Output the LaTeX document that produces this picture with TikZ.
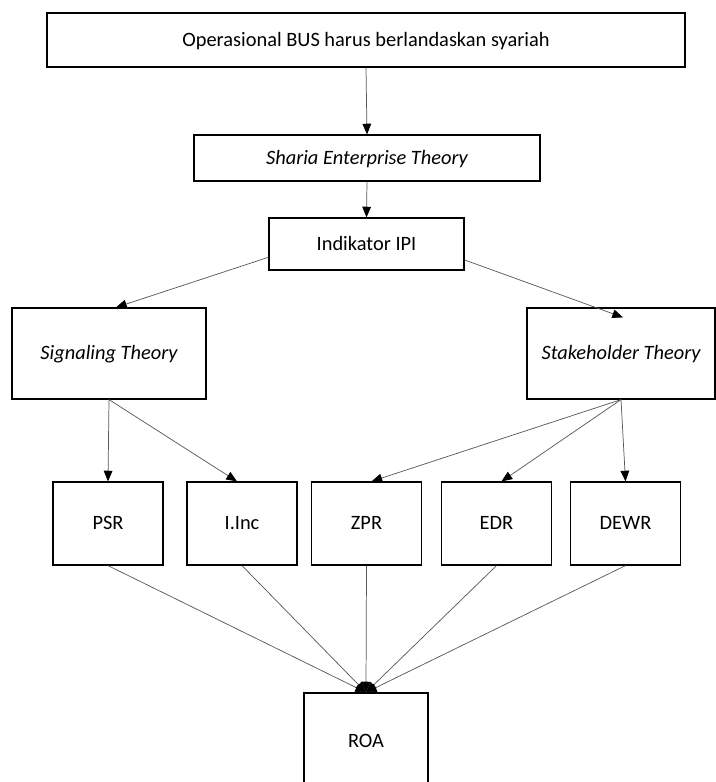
\documentclass[tikz,border=0pt]{standalone}
\usepackage{fontspec}
\setmainfont{Carlito}
\usetikzlibrary{arrows.meta,calc}
\begin{document}
\begin{tikzpicture}[x=0.75pt,y=-0.75pt,
  box/.style={draw=black,line width=0.9pt,fill=white,inner sep=0pt,anchor=center,
    text height=10pt,text depth=0.4pt,
    font=\fontsize{15.3}{18}\selectfont},
  conn/.style={draw=black!65,line width=0.55pt},
  arr/.style={conn,-{Triangle[length=8pt,width=6.5pt,color=black,fill=black]}}]
\useasboundingbox (0,0) rectangle (716,782);
\node[box,minimum width=638*0.75pt,minimum height=54*0.75pt] (top) at (366,40) {Operasional BUS harus berlandaskan syariah};
\node[box,minimum width=346*0.75pt,minimum height=46*0.75pt] (sharia) at (367,158) {\itshape Sharia Enterprise Theory};
\node[box,minimum width=195*0.75pt,minimum height=52*0.75pt] (ind) at (366.5,244) {Indikator IPI};
\node[box,minimum width=194*0.75pt,minimum height=91*0.75pt] (sig) at (109,353.5) {\itshape Signaling Theory};
\node[box,minimum width=188*0.75pt,minimum height=91*0.75pt] (stake) at (621,353.5) {\itshape Stakeholder Theory};
\node[box,minimum width=110*0.75pt,minimum height=83*0.75pt] (psr) at (108,523.5) {PSR};
\node[box,minimum width=110*0.75pt,minimum height=83*0.75pt] (inc) at (242,523.5) {I.Inc};
\node[box,minimum width=110*0.75pt,minimum height=83*0.75pt] (zpr) at (366.5,523.5) {ZPR};
\node[box,minimum width=110*0.75pt,minimum height=83*0.75pt] (edr) at (496.5,523.5) {EDR};
\node[box,minimum width=110*0.75pt,minimum height=83*0.75pt] (dewr) at (625.5,523.5) {DEWR};
\node[box,minimum width=124*0.75pt,minimum height=96*0.75pt] (roa) at (366,741) {ROA};
% connectors
\draw[arr] (top.south) -- (sharia.north);
\draw[arr] (sharia.south) -- (ind.north);
\draw[arr] ($(ind.south west)!0.25!(ind.north west)$) -- ($(sig.north)+(7,0)$);
\draw[arr] ($(ind.south east)!0.2!(ind.north east)$) -- ($(stake.north)+(2,10)$);
\draw[arr] (sig.south) -- (psr.north);
\draw[arr] (sig.south) -- ($(inc.north)+(-5,0)$);
\draw[arr] (stake.south) -- ($(zpr.north)+(5,0)$);
\draw[arr] (stake.south) -- ($(edr.north)+(5,0)$);
\draw[arr] (stake.south) -- (dewr.north);
\foreach \n in {psr,inc,zpr,edr,dewr}{
  \draw[arr] (\n.south) -- (roa.north);
}
\end{tikzpicture}
\end{document}
